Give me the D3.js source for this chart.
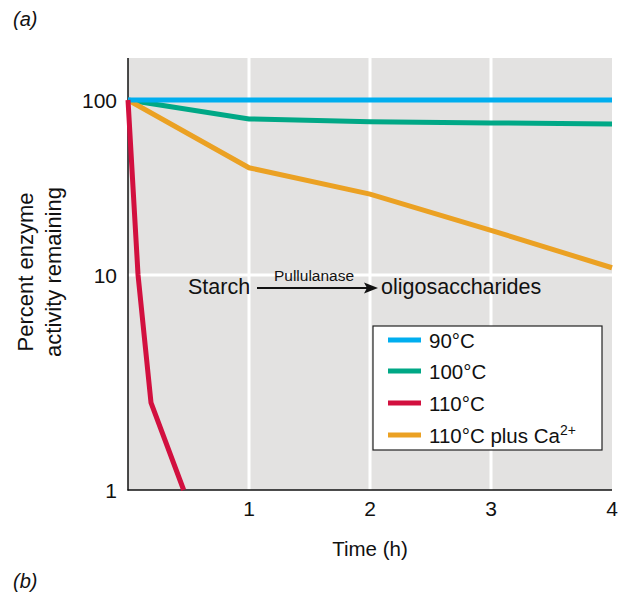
<!DOCTYPE html>
<html>
<head>
<meta charset="utf-8">
<script src="https://cdn.jsdelivr.net/npm/d3@7"></script>
<style>
  html, body { margin: 0; padding: 0; background: #fff; }
  svg { display: block; font-family: "Liberation Sans", Arial, Helvetica, sans-serif; }
</style>
</head>
<body>
<svg id="chart" width="621" height="593"></svg>
<script>
// ---- data ----
const xTicks = [1, 2, 3, 4];
const yTicks = [1, 10, 100];
const yTickLabels = ["1", "10", "100"];
const seriesNames = ["90°C", "100°C", "110°C", "110°C plus Ca"];
const seriesColors = ["#00aeef", "#00a886", "#d2103f", "#eba123"];
const t90 = [0, 1, 2, 3, 4];
const v90 = [100, 100, 100, 100, 100];
const t100 = [0, 1, 2, 3, 4];
const v100 = [100, 78, 75, 74, 73];
const t110 = [0, 0.083, 0.19, 0.46];
const v110 = [100, 10, 2.55, 1];
const t110Ca = [0, 1, 2, 3, 4];
const v110Ca = [100, 41, 29, 18, 11];

const svg = d3.select("#chart");
const L = 128, R = 612, T = 58, B = 490;

const x = d3.scaleLinear().domain([0, 4]).range([L, R]);
const y = d3.scaleLog().domain([1, 10, 100]).range([B, 275, 100]);

// background
svg.append("rect").attr("x", L).attr("y", T).attr("width", R - L).attr("height", B - T).attr("fill", "#e3e2e1");

// grid
svg.append("g").selectAll("line").data(xTicks.filter(d => d < 4)).join("line")
  .attr("x1", d => x(d)).attr("x2", d => x(d)).attr("y1", T).attr("y2", B)
  .attr("stroke", "#fff").attr("stroke-width", 3);
svg.append("g").selectAll("line").data([10, 100]).join("line")
  .attr("x1", L).attr("x2", R).attr("y1", d => y(d)).attr("y2", d => y(d))
  .attr("stroke", "#fff").attr("stroke-width", 3);

// axes lines
svg.append("line").attr("x1", L).attr("x2", L).attr("y1", T).attr("y2", B + 0.5).attr("stroke", "#111").attr("stroke-width", 1.5);
svg.append("line").attr("x1", L - 0.5).attr("x2", R).attr("y1", B).attr("y2", B).attr("stroke", "#111").attr("stroke-width", 1.5);

// tick labels
svg.append("g").selectAll("text").data(xTicks).join("text")
  .attr("x", d => x(d)).attr("y", 516).attr("text-anchor", "middle")
  .attr("font-size", 21).attr("fill", "#111").text(d => d);
svg.append("g").selectAll("text").data(yTicks).join("text")
  .attr("x", 117).attr("y", d => y(d) + 7.5).attr("text-anchor", "end")
  .attr("font-size", 21).attr("fill", "#111").text((d, i) => yTickLabels[i]);

// axis titles
svg.append("text").attr("x", 370).attr("y", 556).attr("text-anchor", "middle")
  .attr("font-size", 20.5).attr("fill", "#111").text("Time (h)");
const yl = svg.append("text").attr("transform", "translate(0,272) rotate(-90)")
  .attr("text-anchor", "middle").attr("font-size", 22).attr("fill", "#111");
yl.append("tspan").attr("x", 0).attr("y", 33).text("Percent enzyme");
yl.append("tspan").attr("x", 0).attr("y", 61).text("activity remaining");

// panel labels
svg.append("text").attr("x", 13).attr("y", 26).attr("font-size", 20).attr("font-style", "italic").attr("fill", "#111").text("(a)");
svg.append("text").attr("x", 13).attr("y", 588).attr("font-size", 20).attr("font-style", "italic").attr("fill", "#111").text("(b)");

// lines
const line = d3.line().x(d => x(d[0])).y(d => y(d[1]));
const series = [
  { t: t100, v: v100, c: seriesColors[1] },
  { t: t110Ca, v: v110Ca, c: seriesColors[3] },
  { t: t90, v: v90, c: seriesColors[0] },
  { t: t110, v: v110, c: seriesColors[2] }
];
svg.append("g").selectAll("path").data(series).join("path")
  .attr("d", s => line(s.t.map((t, i) => [t, s.v[i]])))
  .attr("fill", "none").attr("stroke", s => s.c).attr("stroke-width", 5)
  .attr("stroke-linejoin", "miter");

// reaction annotation
svg.append("text").attr("x", 188).attr("y", 294).attr("font-size", 21.5).attr("fill", "#111").text("Starch");
svg.append("text").attr("x", 381).attr("y", 294).attr("font-size", 21.5).attr("fill", "#111").text("oligosaccharides");
svg.append("text").attr("x", 314).attr("y", 281).attr("text-anchor", "middle").attr("font-size", 15.5).attr("fill", "#111").text("Pullulanase");
svg.append("line").attr("x1", 257).attr("x2", 368).attr("y1", 288).attr("y2", 288).attr("stroke", "#111").attr("stroke-width", 2.2);
svg.append("path").attr("d", "M378,288 L364,282.5 L367,288 L364,293.5 Z").attr("fill", "#111");

// legend
const lg = svg.append("g");
lg.append("rect").attr("x", 373).attr("y", 326).attr("width", 229).attr("height", 124)
  .attr("fill", "#fff").attr("stroke", "#222").attr("stroke-width", 1.2);
const ly = [340, 371, 403, 435];
const order = [0, 1, 2, 3];
order.forEach((k, i) => {
  lg.append("line").attr("x1", 388).attr("x2", 421).attr("y1", ly[i]).attr("y2", ly[i])
    .attr("stroke", seriesColors[k]).attr("stroke-width", 5);
  const tx = lg.append("text").attr("x", 429).attr("y", ly[i] + 7.5).attr("font-size", 20.5).attr("fill", "#111");
  tx.append("tspan").text(seriesNames[k]);
  if (k === 3) tx.append("tspan").attr("font-size", 14).attr("dy", -8).text("2+");
});
</script>
</body>
</html>
